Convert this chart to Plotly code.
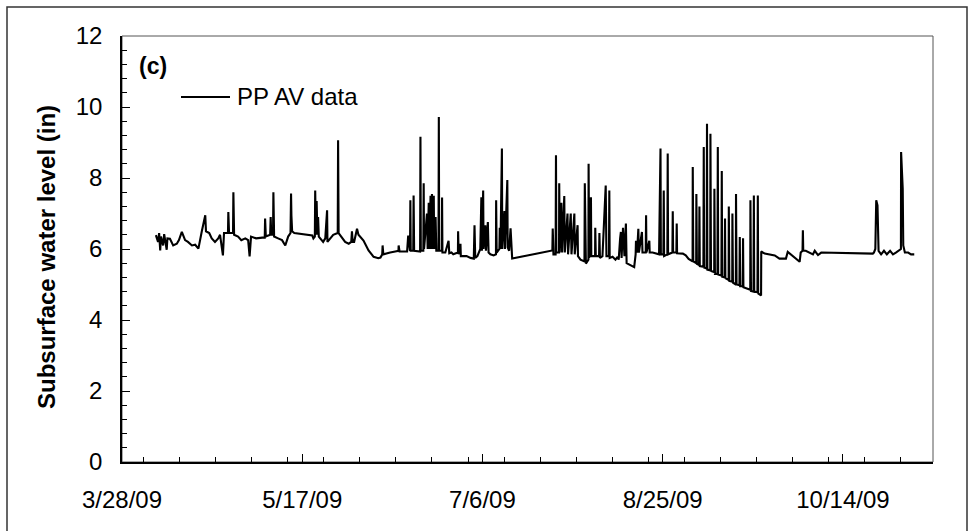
import pandas as pd
import plotly.graph_objects as go

START = "2009-03-28"
SERIES_NAME = "PP AV data"
PANEL_TAG = "(c)"
Y_TITLE = "Subsurface water level (in)"

# elapsed time of each logged reading, in days after START
days = [
    9.4, 10.0, 10.3, 10.6, 10.8, 11.4, 11.7, 12.4, 12.6, 13.3, 14.2, 15.2, 15.8, 16.6,
    17.5, 18.3, 19.4, 20.3, 21.2, 21.7, 22.1, 23.1, 23.3, 24.2, 24.9, 25.8, 26.7, 27.2,
    28.0, 28.3, 29.4, 29.5, 29.7, 30.8, 30.9, 31.1, 32.2, 33.1, 34.2, 35.0, 35.4, 35.8,
    37.2, 38.9, 39.6, 39.7, 39.9, 41.1, 41.25, 41.4, 41.9, 42.0, 42.2, 43.3, 44.4, 45.3,
    46.1, 46.75, 46.9, 47.0, 47.2, 47.8,
    52.8, 53.1, 53.5, 53.6, 53.8, 54.0, 54.2, 54.4, 54.6, 55.3, 55.8, 56.4, 56.9, 57.0,
    57.8, 58.6, 59.85, 59.95, 60.1, 60.8, 61.9, 62.9, 63.6, 63.8, 64.0, 64.4, 65.2, 65.6,
    66.1, 67.0, 68.4, 69.8, 71.1, 71.7, 72.2, 72.3, 72.5, 73.3, 74.4, 75.8, 76.7, 76.75,
    77.0, 77.8, 79.1, 79.4, 79.9, 80.0, 80.1, 80.8, 80.9, 81.05, 81.9, 82.7, 82.8, 82.9,
    83.6, 83.7, 83.8, 84.6, 84.8, 85.1, 85.3, 85.6, 85.7, 86.0, 86.2, 86.5, 86.6, 87.0,
    87.2, 87.8, 87.9, 88.0, 88.75, 88.8, 88.9, 89.7, 90.6, 90.8, 91.4, 91.9, 93.2, 93.25,
    93.4, 93.9, 94.0,
    94.4, 95.6, 96.7, 97.6, 97.8, 98.0, 98.6, 99.4, 99.7, 99.85, 100.2, 100.3, 100.8,
    100.97, 101.5, 101.7, 102.2, 103.1, 103.75, 103.8, 103.95, 104.7, 104.8, 105.0,
    105.4, 105.5, 106.1, 106.25, 106.9, 107.0, 107.4, 107.8, 108.1, 108.25,
    119.4, 119.5, 119.7, 120.3, 120.4, 120.5, 121.25, 121.3, 121.45, 121.9, 122.1, 122.7,
    122.85, 123.6, 123.75, 124.5, 124.7, 125.5, 125.6, 126.4, 126.5, 127.2, 128.3, 128.4,
    128.55, 128.7, 129.4, 129.45, 129.6, 130.1, 130.2, 131.25, 131.3, 131.45, 132.35,
    132.45, 132.6, 133.3, 134.2, 134.4, 135.1, 135.2, 135.3, 136.1, 136.9, 137.5,
    137.8, 138.2, 138.4, 138.6, 139.0, 139.4, 139.8, 140.0, 140.8, 142.1, 142.5, 142.6,
    142.9, 143.25, 143.4, 144.25, 144.4, 145.3, 145.4, 145.5, 146.3, 146.4, 147.2, 149.0,
    149.4, 149.5, 150.2, 150.3, 150.4, 151.3, 151.4, 151.5, 152.7, 152.8, 152.9, 153.8,
    153.9, 154.0, 155.6, 156.4, 157.2, 158.3, 158.35, 158.5, 159.3, 159.35, 159.5, 160.1,
    160.2, 160.3, 161.3, 161.4, 161.5, 162.2, 162.3, 162.4, 163.2, 163.25, 163.4, 164.3,
    164.35, 164.5, 165.2, 165.3, 165.4, 166.3, 166.4, 166.5, 167.2, 167.3, 167.4, 168.3,
    168.35, 168.5, 169.3, 169.35, 169.5, 170.3, 170.35, 170.5, 171.3, 171.4, 171.5, 172.2,
    172.3, 172.4, 174.3, 174.35, 174.5, 175.2, 175.3, 175.4, 176.3, 176.4, 176.5, 177.3,
    177.35, 178.3, 179.7, 181.1, 182.4, 184.2, 184.7, 185.6, 186.1, 187.0, 188.0, 188.3,
    188.8, 188.9, 189.0, 189.7, 190.6, 191.7, 192.2, 193.1, 194.0,
    208.3, 208.6, 209.0, 209.25, 209.6, 209.9, 210.6, 211.4, 212.2, 213.1, 213.9, 214.7,
    215.6, 216.1, 216.15, 216.6, 216.75, 217.2, 218.1, 218.9, 219.8,
]

# subsurface water level at each reading (in)
level_in = [
    6.39, 6.20, 6.45, 5.96, 6.35, 6.10, 6.42, 5.98, 6.30, 6.29, 6.10, 6.15, 6.25, 6.48,
    6.25, 6.20, 6.10, 6.12, 6.01, 6.30, 6.48, 6.95, 6.50, 6.45, 6.30, 6.20, 6.30, 6.40,
    5.82, 6.45, 6.45, 7.04, 6.45, 6.45, 7.60, 6.40, 6.35, 6.25, 6.30, 6.25, 5.79, 6.35,
    6.30, 6.32, 6.32, 6.86, 6.35, 6.40, 6.90, 6.40, 6.40, 7.60, 6.35, 6.30, 6.25, 6.10,
    6.35, 6.45, 7.56, 6.94, 6.50, 6.45,
    6.38, 6.30, 6.35, 7.65, 6.40, 7.35, 6.40, 6.90, 6.35, 6.25, 6.20, 6.30, 7.09, 6.20,
    6.30, 6.40, 6.45, 9.06, 6.45, 6.35, 6.20, 6.15, 6.20, 6.50, 6.20, 6.20, 6.57, 6.40,
    6.35, 6.24, 5.96, 5.78, 5.74, 5.76, 5.85, 6.10, 5.85, 5.88, 5.90, 5.93, 5.95, 6.10,
    5.93, 5.93, 5.93, 6.38, 5.95, 7.37, 5.95, 5.95, 7.51, 5.95, 5.93, 5.93, 9.16, 5.95,
    5.95, 7.85, 6.00, 7.00, 6.00, 7.30, 6.00, 7.50, 6.00, 7.55, 6.00, 7.50, 6.00, 6.90,
    5.95, 5.95, 9.72, 5.95, 5.95, 7.45, 5.90, 5.90, 6.23, 5.88, 5.90, 5.85, 5.90, 6.50,
    5.85, 6.15, 5.80,
    5.80, 5.80, 5.75, 5.73, 6.67, 5.75, 5.80, 6.00, 7.46, 5.95, 7.65, 6.00, 6.67,
    5.95, 6.76, 5.90, 5.85, 5.82, 5.85, 7.37, 5.90, 6.00, 6.60, 6.00,
    8.83, 6.00, 7.07, 6.00, 7.94, 6.05, 5.95, 6.58, 5.90, 5.73,
    5.96, 6.58, 5.85, 5.85, 8.64, 5.90, 5.90, 7.85, 5.90, 7.30, 5.90, 7.49,
    5.90, 7.00, 5.85, 7.00, 5.85, 7.00, 5.85, 6.67, 5.80, 5.70, 5.65, 7.85,
    5.60, 5.59, 5.70, 8.40, 5.75, 7.46, 5.80, 5.80, 6.60, 5.80, 5.80,
    6.45, 5.75, 5.80, 7.79, 5.80, 5.80, 7.65, 5.75, 5.78, 5.70, 5.78,
    5.70, 6.30, 6.48, 5.75, 6.60, 5.80, 6.72, 5.60, 5.55, 5.49, 5.85, 6.23,
    5.90, 6.57, 5.90, 6.48, 5.90, 5.90, 6.95, 5.90, 6.23, 5.90, 5.90, 5.85,
    8.83, 5.85, 5.85, 7.65, 5.80, 5.85, 8.69, 5.85, 5.90, 7.06, 5.90, 5.90,
    6.72, 5.88, 5.87, 5.82, 5.72, 5.65, 8.31, 5.65, 5.60, 7.55, 5.58, 5.55,
    7.20, 5.52, 5.50, 8.87, 5.48, 5.45, 9.53, 5.42, 5.40, 9.25, 5.38, 5.35,
    7.70, 5.30, 5.30, 8.87, 5.28, 5.25, 8.20, 5.22, 5.20, 6.86, 5.18, 5.13,
    7.20, 5.10, 5.08, 7.00, 5.05, 5.00, 7.55, 5.00, 4.98, 6.34, 4.95, 4.95,
    6.30, 4.92, 4.85, 7.37, 4.82, 4.80, 7.51, 4.80, 4.78, 7.51, 4.75, 4.69,
    5.93, 5.87, 5.85, 5.82, 5.73, 5.73, 5.92, 5.85, 5.80, 5.73, 5.64, 5.90,
    5.95, 6.53, 5.95, 5.95, 5.90, 5.85, 5.95, 5.83, 5.90,
    5.87, 5.90, 6.00, 7.37, 7.23, 5.95, 5.85, 5.95, 5.85, 5.95, 5.85, 5.90,
    5.95, 6.00, 8.73, 7.70, 6.10, 5.90, 5.90, 5.85, 5.85,
]

X_RANGE = ["2009-03-28", "2009-11-08"]
Y_RANGE = [0, 12]
DAY_MS = 86400000

times = pd.Timestamp(START) + pd.to_timedelta(days, unit="D")

FONT = "Liberation Sans, Arial, sans-serif"
W, H = 975, 531
L, R, T, B = 122, 42, 36, 69
PW, PH = W - L - R, H - T - B


def px_x(px):
    return (px - L) / PW


def px_y(py):
    return (H - B - py) / PH


fig = go.Figure()
fig.add_trace(go.Scatter(
    x=times, y=level_in, mode="lines", name=SERIES_NAME,
    line=dict(color="black", width=2.1), showlegend=False,
))

tick_font = dict(family=FONT, size=24, color="black")

fig.update_layout(
    width=W, height=H,
    margin=dict(l=L, r=R, t=T, b=B, pad=0),
    paper_bgcolor="white", plot_bgcolor="white",
    xaxis=dict(
        type="date", range=X_RANGE, tick0=START, dtick=50 * DAY_MS,
        tickformat="%-m/%-d/%y", ticks="inside", ticklen=8, tickwidth=1,
        tickcolor="black", tickfont=tick_font, ticklabelstandoff=15,
        minor=dict(ticks="inside", dtick=10 * DAY_MS, ticklen=5,
                   tickwidth=1, tickcolor="black", showgrid=False),
        showline=True, linecolor="black", linewidth=1.5,
        showgrid=False, zeroline=False,
    ),
    yaxis=dict(
        range=Y_RANGE, tick0=0, dtick=2, ticks="inside", ticklen=8,
        tickwidth=1, tickcolor="black", tickfont=tick_font,
        ticklabelstandoff=13,
        minor=dict(ticks="inside", dtick=0.4, ticklen=5, tickwidth=1,
                   tickcolor="black", showgrid=False),
        showline=True, linecolor="black", linewidth=1.5,
        showgrid=False, zeroline=False,
    ),
    shapes=[
        # frame around the whole figure
        dict(type="rect", xref="paper", yref="paper",
             x0=px_x(7), x1=px_x(967), y0=-0.3, y1=px_y(7),
             line=dict(color="#333333", width=1.5), layer="below"),
        # plot-area box
        dict(type="rect", xref="paper", yref="paper",
             x0=0, x1=1, y0=0, y1=1,
             line=dict(color="#555555", width=1), layer="below"),
        # legend key line
        dict(type="line", xref="paper", yref="paper",
             x0=px_x(181), x1=px_x(230), y0=px_y(97), y1=px_y(97),
             line=dict(color="black", width=1.8)),
    ],
    annotations=[
        dict(text=SERIES_NAME, xref="paper", yref="paper",
             x=px_x(235), y=px_y(97), xanchor="left", yanchor="middle",
             showarrow=False, font=dict(family=FONT, size=24, color="black")),
        dict(text="<b>" + PANEL_TAG + "</b>", xref="paper", yref="paper",
             x=px_x(137), y=px_y(66), xanchor="left", yanchor="middle",
             showarrow=False, font=dict(family=FONT, size=23, color="black")),
        dict(text="<b>" + Y_TITLE + "</b>", xref="paper", yref="paper",
             x=px_x(46), y=px_y(257), xanchor="center", yanchor="middle",
             textangle=-90, showarrow=False,
             font=dict(family=FONT, size=24, color="black")),
    ],
)

fig.write_html("out.html")
